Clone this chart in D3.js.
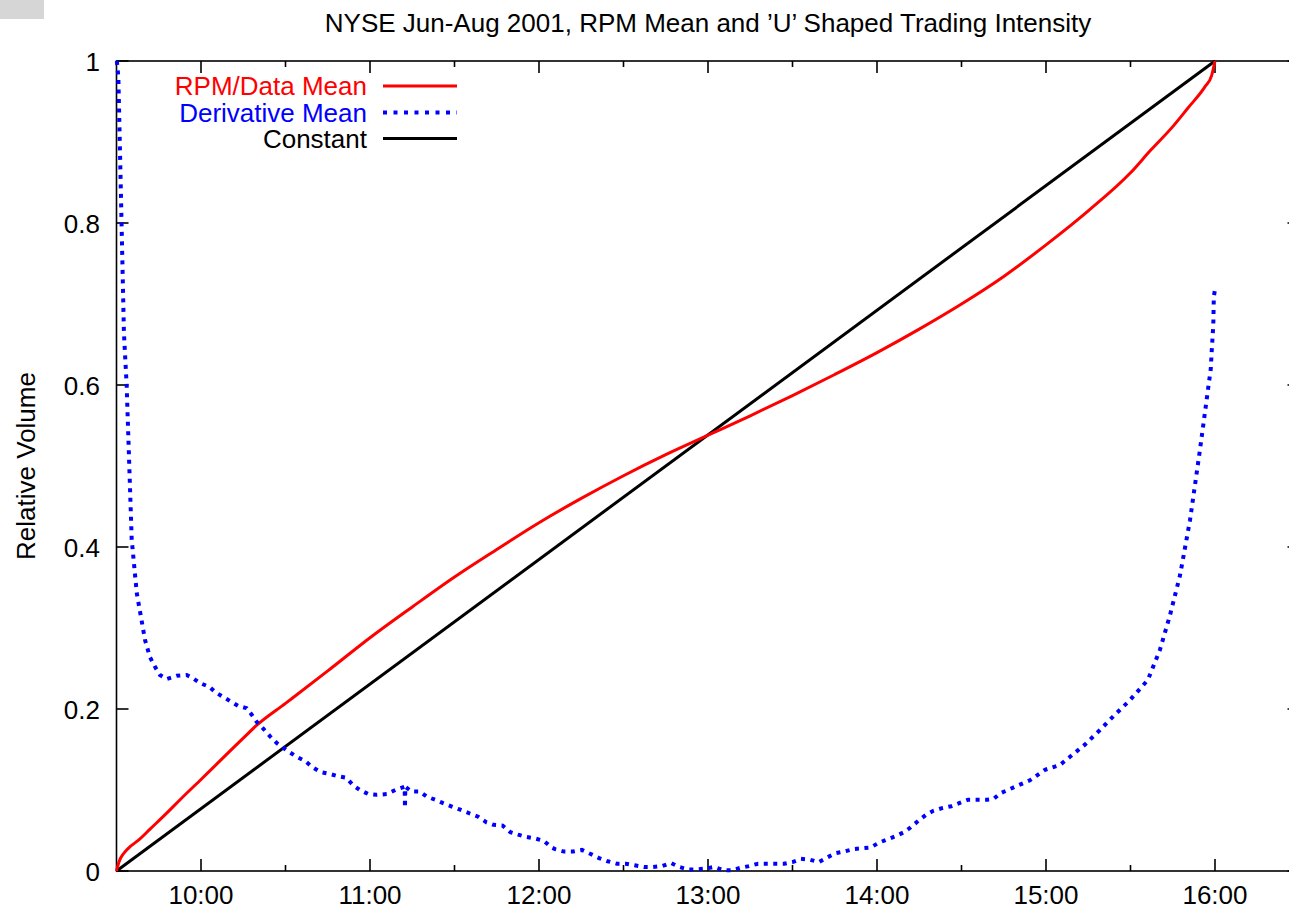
<!DOCTYPE html>
<html>
<head>
<meta charset="utf-8">
<script src="https://cdn.jsdelivr.net/npm/d3@7/dist/d3.min.js"></script>
<style>
  html, body { margin: 0; padding: 0; background: #fff; }
  svg { display: block; }
  text { font-family: "Liberation Sans", Arial, Helvetica, sans-serif; }
</style>
</head>
<body>
<svg id="chart" width="1289" height="910"></svg>
<script>
// Trading time in decimal hours, values as fraction of the day's volume
const rpmTime  = [9.5, 9.51, 9.52, 9.54, 9.56, 9.58, 9.63, 9.7, 9.8, 9.876, 10.0, 10.25, 10.33, 10.5, 10.75, 11.0,
                  11.25, 11.5, 11.75, 12.0, 12.25, 12.5, 12.75, 13.0, 13.25, 13.5, 13.75, 14.0, 14.25, 14.5,
                  14.75, 15.0, 15.25, 15.5, 15.62, 15.75, 15.84, 15.94, 15.98, 16.0];
const rpmValue = [0, 0.008, 0.014, 0.021, 0.026, 0.03, 0.038, 0.052, 0.072, 0.088, 0.113, 0.164, 0.18, 0.207, 0.247, 0.288,
                  0.326, 0.363, 0.397, 0.43, 0.46, 0.488, 0.514, 0.538, 0.562, 0.587, 0.613, 0.64, 0.669, 0.70,
                  0.734, 0.773, 0.815, 0.862, 0.89, 0.919, 0.942, 0.968, 0.982, 1.0];

const derivTime  = [9.502, 9.511, 9.527, 9.544, 9.56, 9.59, 9.62, 9.669, 9.698, 9.728, 9.757, 9.797, 9.856, 9.915, 9.953,
                    9.994, 10.053, 10.083, 10.13, 10.17, 10.219, 10.27, 10.30, 10.33, 10.367, 10.41, 10.448, 10.507,
                    10.566, 10.615, 10.66, 10.71, 10.76, 10.81, 10.86, 10.9, 10.94, 10.99, 11.04, 11.1, 11.15,
                    11.205, 11.207, 11.209, 11.247, 11.296, 11.335, 11.385, 11.43, 11.49, 11.53, 11.59, 11.64, 11.69,
                    11.73, 11.785, 11.83, 11.876, 11.927, 11.98, 12.03, 12.075, 12.095, 12.148, 12.2, 12.254, 12.306,
                    12.355, 12.407, 12.46, 12.513, 12.566, 12.621, 12.675, 12.728, 12.78, 12.83, 12.88, 12.935,
                    12.988, 13.035, 13.09, 13.142, 13.194, 13.243, 13.296, 13.347, 13.397, 13.45, 13.5, 13.55,
                    13.603, 13.655, 13.708, 13.755, 13.805, 13.858, 13.911, 13.962, 14.012, 14.06, 14.11, 14.16,
                    14.2, 14.245, 14.288, 14.33, 14.39, 14.44, 14.49, 14.54, 14.596, 14.65, 14.69, 14.73, 14.817,
                    14.905, 14.994, 15.083, 15.142, 15.23, 15.319, 15.408, 15.497, 15.603, 15.674, 15.734, 15.793,
                    15.852, 15.911, 15.975, 15.98, 15.99, 15.993, 16.0];
const derivValue = [1.0, 0.98, 0.828, 0.664, 0.60, 0.409, 0.343, 0.285, 0.264, 0.252, 0.242, 0.237, 0.241, 0.242, 0.238,
                    0.232, 0.227, 0.221, 0.215, 0.21, 0.204, 0.201, 0.193, 0.184, 0.176, 0.166, 0.158, 0.149,
                    0.141, 0.136, 0.128, 0.122, 0.12, 0.117, 0.115, 0.106, 0.1, 0.095, 0.094, 0.095, 0.1,
                    0.104, 0.078, 0.104, 0.098, 0.098, 0.092, 0.088, 0.084, 0.079, 0.076, 0.071, 0.067, 0.06,
                    0.057, 0.056, 0.048, 0.045, 0.042, 0.04, 0.037, 0.029, 0.027, 0.024, 0.024, 0.026, 0.021,
                    0.016, 0.012, 0.009, 0.009, 0.007, 0.005, 0.005, 0.006, 0.01, 0.005, 0.002, 0.002,
                    0.003, 0.005, 0.001, 0.001, 0.004, 0.006, 0.009, 0.009, 0.009, 0.009, 0.011, 0.015,
                    0.014, 0.011, 0.017, 0.022, 0.024, 0.027, 0.028, 0.029, 0.035, 0.039, 0.043, 0.048,
                    0.054, 0.062, 0.069, 0.074, 0.078, 0.08, 0.084, 0.088, 0.088, 0.088, 0.089, 0.096, 0.104,
                    0.112, 0.125, 0.131, 0.141, 0.156, 0.174, 0.193, 0.211, 0.236, 0.273, 0.316, 0.365,
                    0.433, 0.52, 0.62, 0.64, 0.674, 0.709, 0.718];

const constTime  = [9.5, 16.0];
const constValue = [0, 1];

const xTickHours  = [10, 11, 12, 13, 14, 15, 16];
const xTickLabels = ["10:00", "11:00", "12:00", "13:00", "14:00", "15:00", "16:00"];
const xMinorHours = [10.5, 11.5, 12.5, 13.5, 14.5, 15.5, 16.5];
const yTicks      = [0, 0.2, 0.4, 0.6, 0.8, 1];
const yTickLabels = ["0", "0.2", "0.4", "0.6", "0.8", "1"];

const titleText  = "NYSE Jun-Aug 2001, RPM Mean and \u2019U\u2019 Shaped Trading Intensity";
const yAxisTitle = "Relative Volume";
const legendNames  = ["RPM/Data Mean", "Derivative Mean", "Constant"];
const legendColors = ["#ff0000", "#0000ff", "#000000"];

// ---- layout ----
const svg = d3.select("#chart");
const plotL = 116.5, plotR = 1299.5, plotT = 61, plotB = 871;
const FONT = 26;

const x = d3.scaleLinear().domain([9.5, 16.5]).range([plotL, plotR]);
const y = d3.scaleLinear().domain([0, 1]).range([plotB, plotT]);

// small grey box in the corner
svg.append("rect").attr("x", 0).attr("y", 0).attr("width", 44).attr("height", 19).attr("fill", "#d6d6d6");

// plot border
svg.append("rect")
  .attr("x", plotL).attr("y", plotT)
  .attr("width", plotR - plotL).attr("height", plotB - plotT)
  .attr("fill", "none").attr("stroke", "#000").attr("stroke-width", 1.6);

const tickG = svg.append("g").attr("stroke", "#000").attr("stroke-width", 1.6);

// x ticks: major (labelled) and minor, on bottom and mirrored on top
xTickHours.forEach(h => {
  const px = x(h);
  tickG.append("line").attr("x1", px).attr("x2", px).attr("y1", plotB).attr("y2", plotB - 12);
  tickG.append("line").attr("x1", px).attr("x2", px).attr("y1", plotT).attr("y2", plotT + 12);
});
xMinorHours.forEach(h => {
  const px = x(h);
  tickG.append("line").attr("x1", px).attr("x2", px).attr("y1", plotB).attr("y2", plotB - 6);
  tickG.append("line").attr("x1", px).attr("x2", px).attr("y1", plotT).attr("y2", plotT + 6);
});
// y ticks, left and mirrored on right
yTicks.forEach(v => {
  const py = y(v);
  tickG.append("line").attr("x1", plotL).attr("x2", plotL + 12).attr("y1", py).attr("y2", py);
  tickG.append("line").attr("x1", plotR).attr("x2", plotR - 12).attr("y1", py).attr("y2", py);
});

// tick labels
svg.append("g").selectAll("text").data(xTickHours).join("text")
  .attr("x", d => x(d)).attr("y", 903.5)
  .attr("text-anchor", "middle").attr("font-size", FONT)
  .text((d, i) => xTickLabels[i]);

svg.append("g").selectAll("text").data(yTicks).join("text")
  .attr("x", 100).attr("y", d => y(d) + 9.5)
  .attr("text-anchor", "end").attr("font-size", FONT)
  .text((d, i) => yTickLabels[i]);

// titles
svg.append("text").attr("x", (plotL + plotR) / 2).attr("y", 32)
  .attr("text-anchor", "middle").attr("font-size", FONT).text(titleText);

svg.append("text")
  .attr("transform", `translate(35,${(plotT + plotB) / 2}) rotate(-90)`)
  .attr("text-anchor", "middle").attr("font-size", FONT).text(yAxisTitle);

// ---- series ----
const line = d3.line().x(d => x(d[0])).y(d => y(d[1]));
const smoothLine = d3.line().x(d => x(d[0])).y(d => y(d[1])).curve(d3.curveMonotoneX);
const zip = (a, b) => a.map((t, i) => [t, b[i]]);

svg.append("path").datum(zip(constTime, constValue))
  .attr("d", line).attr("fill", "none").attr("stroke", legendColors[2]).attr("stroke-width", 3);

svg.append("path").datum(zip(rpmTime, rpmValue))
  .attr("d", smoothLine).attr("fill", "none").attr("stroke", legendColors[0]).attr("stroke-width", 3)
  .attr("stroke-linejoin", "round");

svg.append("path").datum(zip(derivTime, derivValue))
  .attr("d", line).attr("fill", "none").attr("stroke", legendColors[1]).attr("stroke-width", 4)
  .attr("stroke-dasharray", "4,5.5");

// ---- legend ----
const legendRows = [86, 112.5, 138.5];
legendNames.forEach((name, i) => {
  svg.append("text").attr("x", 367).attr("y", legendRows[i] + 9)
    .attr("text-anchor", "end").attr("font-size", FONT)
    .attr("fill", legendColors[i]).text(name);
  const ln = svg.append("line")
    .attr("x1", 383).attr("x2", 457).attr("y1", legendRows[i]).attr("y2", legendRows[i])
    .attr("stroke", legendColors[i]).attr("stroke-width", i === 1 ? 4 : 3);
  if (i === 1) ln.attr("stroke-dasharray", "4,6.5");
});
</script>
</body>
</html>
